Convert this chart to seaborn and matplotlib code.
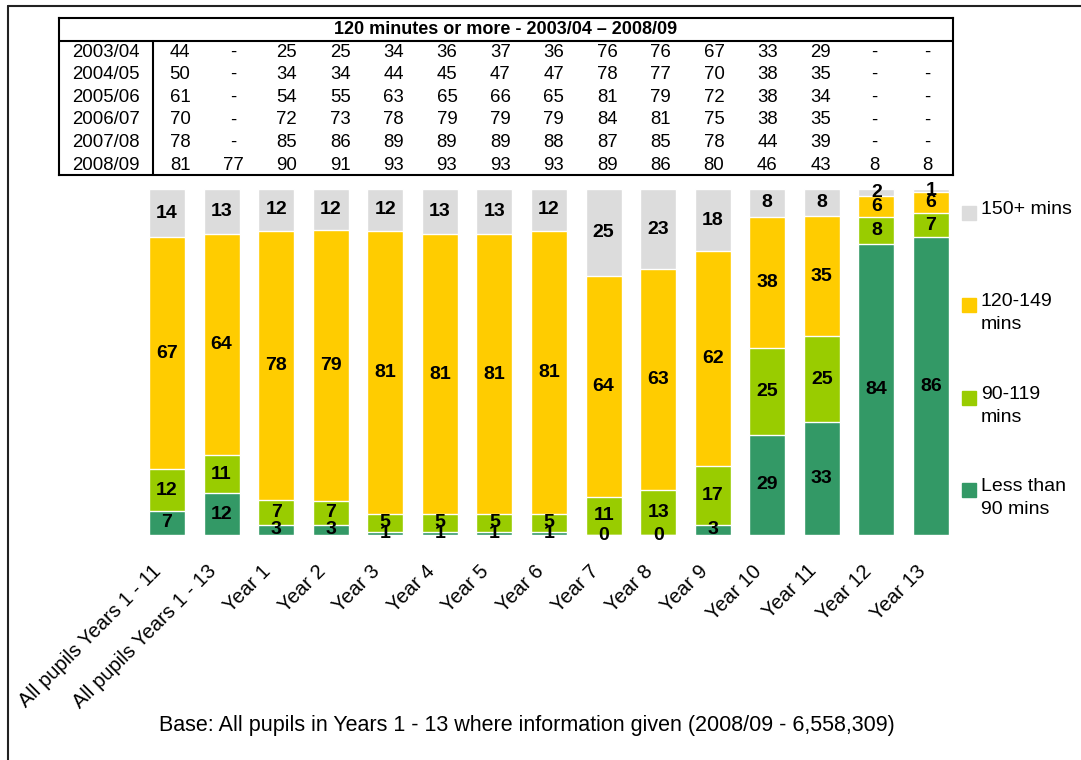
"""
Stacked bar chart of PE time per week by year group, with the
'120 minutes or more' trend table drawn above the bars.
"""
import matplotlib.pyplot as plt
from matplotlib.lines import Line2D
from matplotlib.patches import Rectangle
from matplotlib.transforms import ScaledTranslation
import pandas as pd
import seaborn as sns

CATEGORIES = ['All pupils Years 1 - 11', 'All pupils Years 1 - 13', 'Year 1',
              'Year 2', 'Year 3', 'Year 4', 'Year 5', 'Year 6', 'Year 7',
              'Year 8', 'Year 9', 'Year 10', 'Year 11', 'Year 12', 'Year 13']
LESS_THAN_90 = [7, 12, 3, 3, 1, 1, 1, 1, 0, 0, 3, 29, 33, 84, 86]
MINS_90_119 = [12, 11, 7, 7, 5, 5, 5, 5, 11, 13, 17, 25, 25, 8, 7]
MINS_120_149 = [67, 64, 78, 79, 81, 81, 81, 81, 64, 63, 62, 38, 35, 6, 6]
MINS_150_PLUS = [14, 13, 12, 12, 12, 13, 13, 12, 25, 23, 18, 8, 8, 2, 1]

SERIES = ['Less than\n90 mins', '90-119\nmins', '120-149\nmins', '150+ mins']
COLOURS = ['#339966', '#99CC00', '#FFCC00', '#DCDCDC']

TABLE_TITLE = '120 minutes or more - 2003/04 \u2013 2008/09'
TABLE_YEARS = ['2003/04', '2004/05', '2005/06', '2006/07', '2007/08', '2008/09']
ROW_2003 = [44, None, 25, 25, 34, 36, 37, 36, 76, 76, 67, 33, 29, None, None]
ROW_2004 = [50, None, 34, 34, 44, 45, 47, 47, 78, 77, 70, 38, 35, None, None]
ROW_2005 = [61, None, 54, 55, 63, 65, 66, 65, 81, 79, 72, 38, 34, None, None]
ROW_2006 = [70, None, 72, 73, 78, 79, 79, 79, 84, 81, 75, 38, 35, None, None]
ROW_2007 = [78, None, 85, 86, 89, 89, 89, 88, 87, 85, 78, 44, 39, None, None]
ROW_2008 = [81, 77, 90, 91, 93, 93, 93, 93, 89, 86, 80, 46, 43, 8, 8]

BASE_NOTE = ('Base: All pupils in Years 1 - 13 where information given '
             '(2008/09 - 6,558,309)')

W, H = 1081, 760

sns.set_style('white')
plt.rcParams['font.family'] = ['Liberation Sans', 'DejaVu Sans']
plt.rcParams['text.color'] = 'black'
plt.rcParams['xtick.color'] = 'black'

segments = [LESS_THAN_90, MINS_90_119, MINS_120_149, MINS_150_PLUS]
totals = [sum(vals) for vals in zip(*segments)]

# rounded percentages don't always add to 100, so scale each bar to full height
data = pd.DataFrame({'group': CATEGORIES})
running = [0] * len(CATEGORIES)
for name, seg in zip(SERIES, segments):
    running = [r + v for r, v in zip(running, seg)]
    data[name] = [r / t * 100 for r, t in zip(running, totals)]

fig = plt.figure(figsize=(W / 100, H / 100), dpi=100)

# bars: draw cumulative totals from the top down so they stack
ax = fig.add_axes([139.7 / W, 1 - 535 / H, 818.6 / W, 346 / H])
for name, colour in reversed(list(zip(SERIES, COLOURS))):
    sns.barplot(data=data, x='group', y=name, order=CATEGORIES, color=colour,
                saturation=1, width=0.66, ax=ax)

for i in range(len(CATEGORIES)):
    base = 0
    for seg in segments:
        v = seg[i]
        scaled = v / totals[i] * 100
        ax.text(i, base + scaled / 2, str(v), ha='center', va='center',
                fontsize=14, fontweight='bold')
        base += scaled

ax.set_xlim(-0.5, 14.5)
ax.set_ylim(0, 100)
ax.set_xlabel('')
ax.set_ylabel('')
ax.set_yticks([])
ax.set_xticks(range(len(CATEGORIES)))
ax.set_xticklabels(CATEGORIES, rotation=45, ha='right',
                   rotation_mode='anchor', fontsize=14.5)
ax.tick_params(axis='x', length=0, pad=19)
shift = ScaledTranslation(-0.15, 0, fig.dpi_scale_trans)
for lab in ax.get_xticklabels():
    lab.set_transform(lab.get_transform() + shift)
sns.despine(ax=ax, left=True, bottom=True)

# legend, spread down the right-hand side
legend_y = [213, 305, 398, 490]
for (name, colour), y in zip(reversed(list(zip(SERIES, COLOURS))), legend_y):
    fig.patches.append(Rectangle((962 / W, 1 - (y + 7) / H), 14 / W, 14 / H,
                                 transform=fig.transFigure, color=colour))
    fig.text(981 / W, 1 - (y - 12) / H, name, ha='left', va='top',
             fontsize=14, linespacing=1.45)

# trend table above the bars
tab = fig.add_axes([59 / W, 1 - 175 / H, 894 / W, 157 / H])
tab.set_xlim(-2.266, 14.476)
tab.set_ylim(5.44, -1.504)
tab.set_xticks([])
tab.set_yticks([])
for s in tab.spines.values():
    s.set_visible(True)
    s.set_linewidth(1.5)
    s.set_color('black')
tab.axhline(-0.487, color='black', lw=1.5)
tab.plot([-0.506, -0.506], [-0.487, 5.44], color='black', lw=1.5)
tab.text(6.1, -0.996, TABLE_TITLE, ha='center', va='center', fontsize=13,
         fontweight='bold')
rows = [ROW_2003, ROW_2004, ROW_2005, ROW_2006, ROW_2007, ROW_2008]
for r, (year, row) in enumerate(zip(TABLE_YEARS, rows)):
    tab.text(-1.386, r, year, ha='center', va='center', fontsize=13.4)
    for c, v in enumerate(row):
        tab.text(c, r, '-' if v is None else str(v), ha='center',
                 va='center', fontsize=13.4)

fig.text(527 / W, 1 - 725 / H, BASE_NOTE, ha='center', va='center',
         fontsize=15.5)

# frame around the whole chart (runs off the right and bottom edges)
fig.add_artist(Line2D([8 / W, 8 / W], [0, 1 - 6 / H], color='#222222',
                      lw=1.5, transform=fig.transFigure))
fig.add_artist(Line2D([8 / W, 1], [1 - 6 / H, 1 - 6 / H], color='#222222',
                      lw=1.5, transform=fig.transFigure))

fig.savefig('out.png', dpi=100)
